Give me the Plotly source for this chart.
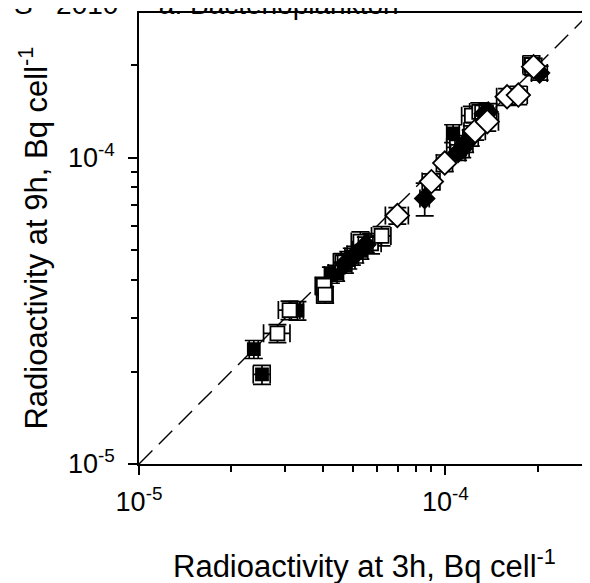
import plotly.graph_objects as go

# radioactivity per cell (Bq cell-1), 3h vs 9h incubations
fsq_x = [2.37e-5, 2.52e-5, 3.29e-5, 4.23e-5, 4.40e-5, 4.82e-5, 4.95e-5, 5.28e-5, 1.06e-4, 1.10e-4]
fsq_y = [2.37e-5, 1.96e-5, 3.17e-5, 4.14e-5, 4.20e-5, 4.63e-5, 4.76e-5, 4.96e-5, 1.20e-4, 1.07e-4]
fsq_xerr = [0.8e-6, 1.6e-6, 1.5e-6, 2e-6, 2.5e-6, 2.5e-6, 2.5e-6, 3e-6, 5e-6, 6e-6]
fsq_yerr = [1.6e-6, 1.4e-6, 2.2e-6, 2.5e-6, 2.5e-6, 3e-6, 3e-6, 3e-6, 8e-6, 7e-6]

osq_x = [2.83e-5, 3.10e-5, 4.01e-5, 4.05e-5, 4.61e-5, 5.28e-5, 5.72e-5, 6.19e-5, 1.09e-4, 1.22e-4, 1.29e-4, 1.91e-4]
osq_y = [2.67e-5, 3.18e-5, 3.82e-5, 3.57e-5, 4.56e-5, 5.32e-5, 5.25e-5, 5.55e-5, 1.08e-4, 1.37e-4, 1.41e-4, 2.01e-4]
osq_xerr = [2.8e-6, 2.5e-6, 2.5e-6, 2.5e-6, 3e-6, 3.5e-6, 4.5e-6, 4.5e-6, 8e-6, 9e-6, 9e-6, 1.2e-5]
osq_yerr = [1.8e-6, 2.2e-6, 2.5e-6, 2.2e-6, 3e-6, 4e-6, 4e-6, 4e-6, 8e-6, 1e-5, 1e-5, 1.4e-5]

fdm_x = [4.70e-5, 5.08e-5, 5.50e-5, 8.56e-5, 1.10e-4, 1.135e-4, 1.16e-4, 1.21e-4, 1.34e-4, 1.38e-4, 2.03e-4]
fdm_y = [4.50e-5, 4.83e-5, 5.20e-5, 7.35e-5, 1.04e-4, 1.07e-4, 1.11e-4, 1.16e-4, 1.39e-4, 1.41e-4, 1.89e-4]
fdm_xerr = [2.5e-6, 3e-6, 3e-6, 3e-6, 6e-6, 6e-6, 7e-6, 7e-6, 9e-6, 9e-6, 1.2e-5]
fdm_yerr = [3e-6, 3e-6, 3e-6, 9e-6, 6e-6, 7e-6, 7e-6, 7e-6, 9e-6, 9e-6, 1e-5]

odm_x = [6.97e-5, 9.0e-5, 9.95e-5, 1.25e-4, 1.37e-4, 1.59e-4, 1.73e-4, 1.94e-4]
odm_y = [6.47e-5, 8.35e-5, 9.6e-5, 1.22e-4, 1.31e-4, 1.58e-4, 1.60e-4, 1.98e-4]
odm_xerr = [6e-6, 6e-6, 6e-6, 1e-5, 1.2e-5, 1.2e-5, 1.2e-5, 1.2e-5]
odm_yerr = [4e-6, 5e-6, 6e-6, 8e-6, 9e-6, 1e-5, 1.1e-5, 1.3e-5]

one_to_one = [1e-5, 3e-4]
major_ticks = [1e-5, 1e-4]
major_text = ["10<sup>-5</sup>", "10<sup>-4</sup>"]
minor_ticks = [2e-5, 3e-5, 4e-5, 5e-5, 6e-5, 7e-5, 8e-5, 9e-5, 2e-4, 3e-4]

FONT = "Liberation Sans, Arial, sans-serif"
NB = "\u00a0"

fig = go.Figure()
fig.add_trace(go.Scatter(x=one_to_one, y=one_to_one, mode="lines",
                         line=dict(color="black", width=1.4, dash="19px,9px"),
                         showlegend=False, hoverinfo="skip"))


def add_series(x, y, xerr, yerr, symbol, fill, size):
    fig.add_trace(go.Scatter(
        x=x, y=y, mode="markers", showlegend=False,
        marker=dict(symbol=symbol, size=size, color=fill,
                    line=dict(color="black", width=1.8)),
        error_x=dict(type="data", array=xerr, color="black", thickness=1.7, width=9),
        error_y=dict(type="data", array=yerr, color="black", thickness=1.7, width=9),
    ))


add_series(fsq_x, fsq_y, fsq_xerr, fsq_yerr, "square", "black", 12)
add_series(osq_x, osq_y, osq_xerr, osq_yerr, "square", "white", 14)
add_series(fdm_x, fdm_y, fdm_xerr, fdm_yerr, "diamond", "black", 15)
add_series(odm_x, odm_y, odm_xerr, odm_yerr, "diamond", "white", 18)

axis_common = dict(
    type="log", range=[-5, -3.528], showgrid=False, zeroline=False,
    showline=True, linecolor="black", linewidth=1.5,
    ticks="outside", ticklen=9, tickwidth=1.5, tickcolor="black",
    tickmode="array", tickvals=major_ticks, ticktext=major_text,
    tickfont=dict(family=FONT, size=27, color="black"),
    minor=dict(tickmode="array", tickvals=minor_ticks, ticks="outside",
               ticklen=6, tickwidth=1.5, tickcolor="black", showgrid=False),
)

fig.update_xaxes(**axis_common, mirror=True, ticklabelstandoff=4)
fig.update_yaxes(**axis_common, ticklabelstandoff=8)

title = "-" + NB + "S" + NB * 3 + "2010" + NB * 3 + "-" + NB + "a. Bacterioplankton"
fig.add_annotation(text=title, xref="paper", yref="paper",
                   x=-0.319, y=1.0188, xanchor="left", yanchor="middle", showarrow=False,
                   font=dict(family=FONT, size=28, color="black"))
fig.add_annotation(text="Radioactivity at 3h, Bq cell<sup>-1</sup>", xref="paper", yref="paper",
                   x=0.5, y=-0.2226, xanchor="center", yanchor="middle", showarrow=False,
                   font=dict(family=FONT, size=31, color="black"))
fig.add_annotation(text="Radioactivity at 9h, Bq cell<sup>-1</sup>", xref="paper", yref="paper",
                   x=-0.235, y=0.5, xanchor="center", yanchor="middle", showarrow=False,
                   textangle=-90, font=dict(family=FONT, size=31, color="black"))

fig.update_layout(
    width=582, height=575,
    margin=dict(l=131, r=0, t=5, b=119),
    plot_bgcolor="white", paper_bgcolor="white",
    font=dict(family=FONT, color="black"),
)

fig.write_html("out.html")
